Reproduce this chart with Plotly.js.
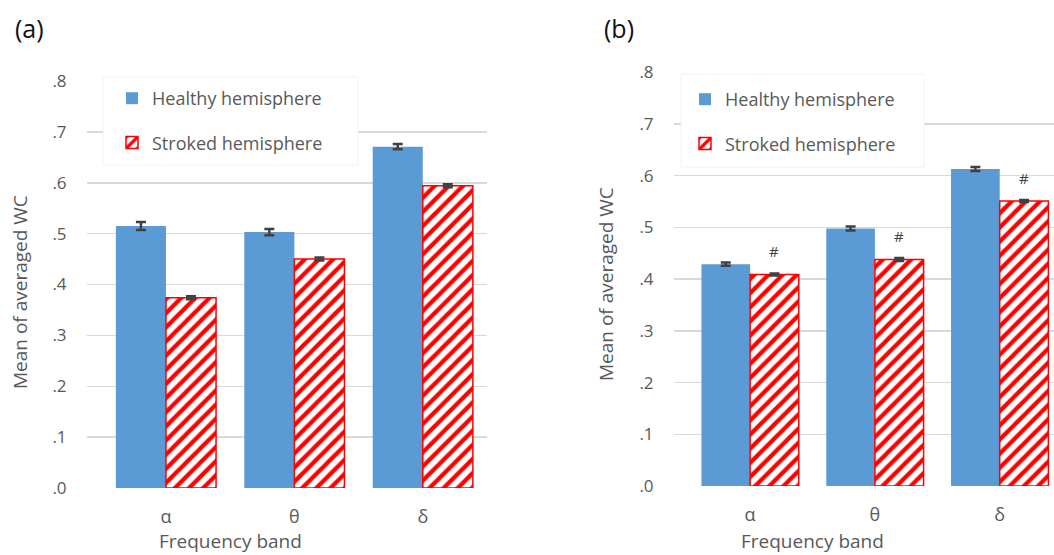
<!DOCTYPE html>
<html>
<head>
<meta charset="utf-8">
<script src="https://cdn.plot.ly/plotly-3.0.1.min.js"></script>
<style>html,body{margin:0;padding:0;background:#fff;}#chart{width:1054px;height:555px;}</style>
</head>
<body>
<div id="chart"></div>
<script>
// ---- data ----
const categories = ['α', 'θ', 'δ'];
const yTickVals = [0, 0.1, 0.2, 0.3, 0.4, 0.5, 0.6, 0.7, 0.8];
const yTickText = ['.0', '.1', '.2', '.3', '.4', '.5', '.6', '.7', '.8'];
const seriesNames = ['Healthy hemisphere', 'Stroked hemisphere'];
// panel (a)
const healthyA = [0.515, 0.503, 0.671];
const healthyAErr = [0.008, 0.006, 0.005];
const strokedA = [0.374, 0.450, 0.594];
const strokedAErr = [0.003, 0.003, 0.003];
// panel (b)
const healthyB = [0.429, 0.498, 0.613];
const healthyBErr = [0.003, 0.004, 0.004];
const strokedB = [0.409, 0.438, 0.551];
const strokedBErr = [0.002, 0.003, 0.002];
const sigMarksB = ['#', '#', '#'];
const panelLabels = ['(a)', '(b)'];
const xTitle = 'Frequency band';
const yTitle = 'Mean of averaged WC';

// ---- styles ----
const W = 1054, H = 555;
const px = v => v / W;
const py = v => 1 - v / H;
const BLUE = '#5B9BD5';
const RED = '#FF0000';
const TXT = '#595959';
const FONT = '"Open Sans", "Liberation Sans", sans-serif';

function healthy(y, err, xa, ya, lg) {
  return {
    type: 'bar', name: seriesNames[0], x: categories, y: y, xaxis: xa, yaxis: ya,
    legend: lg, legendgroup: 'h', showlegend: true,
    marker: {color: BLUE, line: {width: 0}},
    error_y: {type: 'data', array: err, visible: true, color: '#404040', thickness: 2.5, width: 5},
    hoverinfo: 'skip'
  };
}
function stroked(y, err, xa, ya, lg) {
  return {
    type: 'bar', name: seriesNames[1], x: categories, y: y, xaxis: xa, yaxis: ya,
    legend: lg, legendgroup: 's', showlegend: true,
    marker: {color: '#FFFFFF', line: {color: RED, width: 1.5},
             pattern: {shape: '/', fgcolor: RED, bgcolor: '#FFFFFF', size: 10, solidity: 0.42, fillmode: 'replace'}},
    error_y: {type: 'data', array: err, visible: true, color: '#404040', thickness: 2.5, width: 5},
    hoverinfo: 'skip'
  };
}

const data = [
  healthy(healthyA, healthyAErr, 'x', 'y', 'legend'),
  stroked(strokedA, strokedAErr, 'x', 'y', 'legend'),
  healthy(healthyB, healthyBErr, 'x2', 'y2', 'legend2'),
  stroked(strokedB, strokedBErr, 'x2', 'y2', 'legend2')
];

function yAxis(domain, anchor) {
  return {
    domain: domain, anchor: anchor, range: [0, 0.8], tickvals: yTickVals, ticktext: yTickText,
    showgrid: true, gridcolor: '#D9D9D9', gridwidth: 1.5, zeroline: false, showline: false,
    ticks: 'outside', ticklen: 16, tickcolor: 'rgba(0,0,0,0)',
    tickfont: {family: FONT, size: 17, color: TXT}, automargin: false, fixedrange: true
  };
}
function xAxis(domain, anchor, range) {
  return {
    domain: domain, anchor: anchor, type: 'category', range: range,
    showgrid: false, zeroline: false, showline: false,
    ticks: 'outside', ticklen: 12, tickcolor: 'rgba(0,0,0,0)',
    tickfont: {family: FONT, size: 18, color: TXT}, automargin: false, fixedrange: true
  };
}
function legendCfg(xLeft, yTop) {
  return {
    x: px(xLeft), xanchor: 'left', y: py(yTop), yanchor: 'top',
    bgcolor: 'rgba(0,0,0,0)', borderwidth: 0,
    font: {family: FONT, size: 18, color: TXT},
    traceorder: 'grouped', tracegroupgap: 18, itemclick: false, itemdoubleclick: false
  };
}

const annotations = [];
// panel labels
annotations.push({xref: 'paper', yref: 'paper', x: px(29), y: py(28), text: panelLabels[0], showarrow: false,
  xanchor: 'center', yanchor: 'middle', font: {family: FONT, size: 25, color: '#111'}});
annotations.push({xref: 'paper', yref: 'paper', x: px(619), y: py(28), text: panelLabels[1], showarrow: false,
  xanchor: 'center', yanchor: 'middle', font: {family: FONT, size: 25, color: '#111'}});
// axis titles
[[230, 541], [812, 541]].forEach(p => annotations.push({xref: 'paper', yref: 'paper', x: px(p[0]), y: py(p[1]),
  text: xTitle, showarrow: false, xanchor: 'center', yanchor: 'middle', font: {family: FONT, size: 19, color: TXT}}));
[[20, 292], [606, 284]].forEach(p => annotations.push({xref: 'paper', yref: 'paper', x: px(p[0]), y: py(p[1]),
  text: yTitle, textangle: -90, showarrow: false, xanchor: 'center', yanchor: 'middle', font: {family: FONT, size: 19, color: TXT}}));
// significance marks above stroked bars in panel (b)
sigMarksB.forEach((m, i) => annotations.push({xref: 'x2', yref: 'y2', x: i + 0.195, y: strokedB[i] + strokedBErr[i],
  text: m, showarrow: false, xanchor: 'center', yanchor: 'bottom', yshift: 10, font: {family: FONT, size: 15, color: '#404040'}}));

const layout = {
  width: W, height: H, margin: {l: 0, r: 0, t: 0, b: 0},
  paper_bgcolor: '#FFFFFF', plot_bgcolor: 'rgba(0,0,0,0)',
  barmode: 'group', bargap: 0.22, bargroupgap: 0,
  xaxis: xAxis([px(87), px(487)], 'y', [-0.615, 2.5]),
  yaxis: yAxis([py(488), py(81)], 'x'),
  xaxis2: xAxis([px(674), 1], 'y2', [-0.61, 2.435]),
  yaxis2: yAxis([py(486), py(72.3)], 'x2'),
  legend: legendCfg(112, 80),
  legend2: legendCfg(685, 81),
  shapes: [
    {type: 'rect', xref: 'paper', yref: 'paper', x0: px(103), x1: px(358), y0: py(165), y1: py(77),
     fillcolor: '#FFFFFF', line: {color: '#F2F2F2', width: 1}, layer: 'above'},
    {type: 'rect', xref: 'paper', yref: 'paper', x0: px(681), x1: px(924), y0: py(167), y1: py(74),
     fillcolor: '#FFFFFF', line: {color: '#F2F2F2', width: 1}, layer: 'above'}
  ],
  annotations: annotations,
  showlegend: true
};

Plotly.newPlot('chart', data, layout, {displayModeBar: false, staticPlot: true});
</script>
</body>
</html>
